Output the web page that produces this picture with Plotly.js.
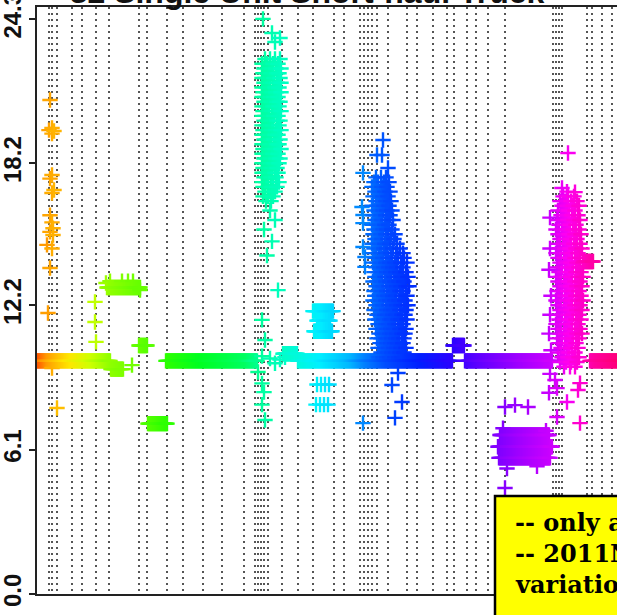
<!DOCTYPE html>
<html>
<head>
<meta charset="utf-8">
<script src="https://cdn.plot.ly/plotly-3.0.1.min.js"></script>
<style>
  html, body { margin: 0; padding: 0; background: #ffffff; overflow: hidden; }
  #chart { position: absolute; left: 0; top: -8px; width: 640px; height: 640px; }
</style>
</head>
<body>
<div id="chart"></div>
<script>
// Hourly readings, x = hour index along the record, y = value.

// Steady stretches: first hour, last hour, level.
const runStart = [0, 74, 70, 102, 111, 129, 246, 261, 276, 280, 277, 416, 428, 463, 461, 462, 547, 553];
const runEnd   = [73, 86, 103, 110, 130, 220, 260, 415, 296, 293, 295, 427, 515, 512, 515, 513, 556, 588];
const runLevel = [9.85, 9.5, 12.95, 10.5, 7.2, 9.85, 10.15, 9.85, 11.95, 11.55, 11.1, 10.5, 9.85, 6.72, 6.22, 5.75, 14.05, 9.85];

// Busy hours: at each level, the hours that reported it.
const tealLevels = [22.6, 22.4, 22.2, 22.0, 21.8, 21.6, 21.4, 21.2, 21.0, 20.8, 20.6, 20.4, 20.2, 20.0, 19.8, 19.6,
  19.4, 19.2, 19.0, 18.8, 18.6, 18.4, 18.2, 18.0, 17.8, 17.6, 17.4, 17.2, 17.0, 16.8, 16.6];
const tealHours = [
  [228, 233, 238, 243], [225, 230, 236, 241], [227, 232, 235, 239, 244], [226, 229, 234, 240, 242],
  [225, 228, 231, 237, 243], [227, 233, 236, 240, 244], [225, 229, 232, 238, 242], [226, 230, 235, 239, 244],
  [225, 228, 233, 237, 241], [227, 231, 234, 240, 243], [225, 229, 236, 238, 242], [226, 232, 235, 239, 244],
  [225, 228, 231, 237, 241], [227, 230, 234, 240, 243], [225, 229, 233, 236, 242], [226, 231, 235, 239, 244],
  [225, 228, 232, 238, 241], [227, 230, 234, 237, 243], [225, 229, 233, 240, 242], [226, 232, 235, 238, 244],
  [225, 228, 231, 236, 241], [227, 230, 234, 239, 243], [225, 229, 233, 237, 242], [226, 231, 235, 240],
  [225, 228, 232, 238, 241], [227, 230, 234, 239], [225, 229, 236, 242], [226, 231, 235, 240],
  [228, 233, 238], [226, 231, 236], [229, 234]];

const blueLevels = [17.6, 17.4, 17.2, 17.0, 16.8, 16.6, 16.4, 16.2, 16.0, 15.8, 15.6, 15.4, 15.2, 15.0, 14.8, 14.6, 14.4,
  14.2, 14.0, 13.8, 13.6, 13.4, 13.2, 13.0, 12.8, 12.6, 12.4, 12.2, 12.0, 11.8, 11.6, 11.4, 11.2, 11.0, 10.8, 10.6,
  10.4, 10.2, 10.0];
const blueHours = [
  [339, 344, 349], [337, 341, 347, 352], [335, 340, 345, 350], [338, 343, 348, 353], [336, 341, 346, 351],
  [339, 344, 349, 354], [335, 340, 343, 347, 352], [337, 342, 346, 350, 355], [336, 339, 344, 349, 353],
  [338, 341, 345, 351, 356], [335, 340, 343, 348, 352], [337, 342, 346, 350, 355], [336, 339, 344, 349, 354, 358],
  [338, 341, 345, 351, 357], [335, 340, 343, 348, 353, 360], [337, 342, 347, 350, 356, 363],
  [336, 339, 344, 349, 354, 359, 366],
  [338, 342, 346, 351, 355, 361, 367], [336, 340, 344, 349, 353, 358, 364, 370], [339, 343, 347, 352, 356, 360, 366],
  [337, 341, 345, 350, 354, 359, 363, 369], [338, 342, 348, 351, 357, 361, 365, 371],
  [336, 340, 344, 349, 353, 358, 362, 367], [339, 343, 346, 352, 355, 360, 364, 369, 372],
  [337, 341, 345, 350, 354, 357, 363, 366], [338, 342, 347, 351, 356, 359, 365, 370],
  [336, 340, 344, 349, 353, 358, 362, 368], [339, 343, 346, 352, 355, 360, 364, 367, 371],
  [337, 341, 345, 350, 354, 357, 363, 369], [340, 344, 348, 351, 356, 359, 365, 368],
  [338, 342, 347, 353, 355, 361, 364, 370], [341, 345, 349, 352, 358, 362, 366],
  [339, 343, 346, 350, 354, 357, 363, 369], [342, 345, 348, 353, 356, 360, 365, 368],
  [340, 344, 349, 351, 355, 359, 362, 367], [343, 346, 350, 354, 358, 361, 366],
  [341, 345, 348, 352, 357, 360, 364, 369], [344, 347, 351, 355, 359, 363, 367], [342, 346, 350, 353, 358, 362, 365]];

const magentaLevels = [16.8, 16.6, 16.4, 16.2, 16.0, 15.8, 15.6, 15.4, 15.2, 15.0, 14.8, 14.6, 14.4, 14.2, 14.0, 13.8,
  13.6, 13.4, 13.2, 13.0, 12.8, 12.6, 12.4, 12.2, 12.0, 11.8, 11.6, 11.4, 11.2, 11.0, 10.8, 10.6, 10.4, 10.2, 10.0,
  9.8, 9.6];
const magentaHours = [
  [526, 531, 537], [523, 528, 534, 540], [525, 530, 536, 542], [521, 527, 532, 538], [524, 529, 535, 541],
  [520, 526, 531, 537, 543], [522, 528, 533, 539], [519, 525, 530, 536, 542], [521, 527, 532, 538, 544],
  [523, 529, 534, 540], [520, 526, 531, 537, 543], [522, 528, 533, 539, 545], [519, 524, 530, 535, 541],
  [521, 527, 532, 538, 543], [523, 529, 534, 540, 546], [520, 525, 531, 536, 542], [522, 528, 533, 539, 544],
  [519, 524, 530, 535, 541, 546], [521, 527, 532, 538, 543], [523, 529, 534, 540, 545], [520, 525, 531, 536, 542],
  [522, 528, 533, 539, 544], [519, 524, 530, 535, 541, 546], [521, 527, 532, 538, 543], [523, 529, 534, 540, 545],
  [520, 525, 531, 536, 542], [522, 528, 533, 539, 544], [519, 524, 530, 535, 541], [521, 527, 532, 538, 543],
  [523, 529, 534, 540, 545], [520, 525, 531, 536, 542], [522, 528, 533, 539], [524, 530, 535, 541],
  [521, 527, 532, 538], [525, 531, 536, 542], [523, 529, 534, 540], [527, 533, 538]];

// Loose readings.
const earlyX = [13, 15, 12, 17, 15, 15, 13, 17, 15, 13, 15, 16, 13, 16, 10, 15, 13, 11, 15, 20,
  58, 58, 59, 73, 85, 91, 96, 69, 103, 95];
const earlyY = [20.87, 19.69, 19.6, 19.56, 19.45, 17.7, 17.55, 17.07, 16.94, 16.0, 15.7, 15.45, 15.3, 15.17, 14.75, 14.6, 13.77, 11.87, 9.55, 7.86,
  12.34, 11.49, 10.65, 13.22, 13.22, 13.22, 13.22, 13.14, 12.84, 9.67];

const tealX = [226, 235, 243, 238, 233, 238, 227, 235, 230, 241, 225, 228, 225, 221, 225, 227, 225, 228, 233, 243, 248, 238];
const tealY = [24.3, 23.7, 23.49, 23.32, 16.2, 15.8, 15.4, 14.9, 14.3, 12.84, 11.58, 10.73, 10.05, 9.38, 8.9, 8.53, 8.0, 7.35, 9.95, 9.9, 10.0, 9.75];

const cyanX = [280, 284, 288, 292, 279, 283, 287, 291, 326, 325, 326, 326, 326, 328, 328, 326];
const cyanY = [8.85, 8.85, 8.85, 8.85, 8.0, 8.0, 8.0, 8.0, 17.79, 16.35, 16.01, 15.67, 14.66, 14.24, 13.82, 7.22];

const blueX = [346, 340, 345, 351, 361, 355, 365, 358];
const blueY = [19.18, 18.55, 18.55, 18.0, 9.34, 8.83, 8.11, 7.44];

const violetX = [468, 478, 491, 468, 466, 509, 470, 500];
const violetY = [7.9, 7.98, 7.9, 4.48, 7.0, 6.9, 5.3, 5.4];

const magentaX = [531, 525, 538, 530, 513, 513, 512, 514, 513, 512, 514, 513, 512, 518, 520, 543, 541, 530, 520, 543];
const magentaY = [18.63, 17.15, 16.98, 17.0, 15.9, 14.6, 13.7, 12.6, 11.8, 11.0, 10.3, 9.3, 8.5, 9.04, 8.7, 8.91, 8.62, 8.11, 7.48, 7.22];

// Hours marked by dotted reference lines.
const gridHours = [12, 15, 20, 35, 45, 58.5, 59.5, 72, 102, 110, 130, 146, 166, 185, 207, 218, 221, 224, 227, 231,
  245, 261, 276, 297, 307, 323, 327, 331, 335, 340, 351, 370, 380, 396, 410, 417, 430, 439, 451, 468,
  516, 519, 522, 525, 550, 555, 565, 575];

const yTickVals = [0, 6.1, 12.2, 18.2, 24.3];
const yTickText = ['0.0', '6.1', '12.2', '18.2', '24.3'];

const chartTitle = '32 Single Unit Short-haul Truck';
const noteLines = ['-- only a few sites report', '-- 2011NEI default profile', 'variation is not captured'];

// Collect every reading.
let xs = [], ys = [];
const add = (x, y) => { xs.push(x); ys.push(y); };
runStart.forEach((s, k) => { for (let h = s; h <= runEnd[k]; h++) add(h, runLevel[k]); });
[[tealLevels, tealHours], [blueLevels, blueHours], [magentaLevels, magentaHours]].forEach(([lv, hrs]) => {
  lv.forEach((y, k) => hrs[k].forEach(h => add(h, y)));
});
[[earlyX, earlyY], [tealX, tealY], [cyanX, cyanY], [blueX, blueY], [violetX, violetY], [magentaX, magentaY]]
  .forEach(([gx, gy]) => gx.forEach((x, k) => add(x, gy[k])));
const order = xs.map((_, k) => k).sort((a, b) => xs[a] - xs[b]);
xs = order.map(k => xs[k]);
ys = order.map(k => ys[k]);

// Rainbow along the record.
const rainbow = [
  [0.000, '#ff5000'], [0.017, '#ff9a00'], [0.031, '#ffb800'], [0.056, '#ffe600'],
  [0.090, '#d0ff00'], [0.124, '#90ff00'], [0.175, '#66ff00'], [0.218, '#30ff00'],
  [0.277, '#00ff20'], [0.354, '#00ff60'], [0.383, '#00ffa0'], [0.422, '#00ffc8'],
  [0.481, '#00f0ff'], [0.532, '#00b8ff'], [0.558, '#0080ff'], [0.592, '#0050ff'],
  [0.651, '#0020ff'], [0.711, '#3000ff'], [0.753, '#6000ff'], [0.821, '#a000ff'],
  [0.872, '#c800ff'], [0.906, '#ff00f0'], [0.949, '#ff00a0'], [1.000, '#ff0070']
];
const xMax = 588;

const trace = {
  type: 'scatter',
  mode: 'markers',
  x: xs,
  y: ys,
  hoverinfo: 'skip',
  marker: {
    symbol: 'cross-thin',
    size: 11,
    color: xs, colorscale: rainbow, cmin: 0, cmax: xMax,
    line: { width: 2.4, color: xs, colorscale: rainbow, cmin: 0, cmax: xMax }
  }
};

// Page geometry of the plot area (layout pixels).
const plotTop = 15, plotH = 587, plotL = 37, plotW = 588;
const px2x = p => (p - plotL) / plotW;
const py2y = p => (plotTop + plotH - p) / plotH;
const shiftY = 8;
const noteFirst = 522.5, noteGap = 31;

const layout = {
  width: 640, height: 640,
  margin: { l: plotL, r: 640 - plotL - plotW, t: plotTop, b: 640 - plotTop - plotH },
  paper_bgcolor: '#ffffff', plot_bgcolor: '#ffffff',
  showlegend: false,
  title: {
    text: chartTitle, x: px2x(307), xref: 'paper', xanchor: 'center', y: 1, yref: 'container', yanchor: 'middle',
    font: { family: 'Liberation Sans, Arial, sans-serif', size: 32, color: '#111', weight: 'bold' }
  },
  xaxis: {
    range: [0, xMax], fixedrange: true,
    tickmode: 'array', tickvals: gridHours, showticklabels: false, ticks: '',
    showgrid: true, gridcolor: '#555', gridwidth: 1.4, griddash: '2px,4px',
    zeroline: false, showline: true, mirror: true, linecolor: '#222', linewidth: 2
  },
  yaxis: {
    range: [0, 24.8], fixedrange: true,
    tickmode: 'array', tickvals: yTickVals, ticktext: yTickText, tickangle: -90,
    ticks: 'outside', ticklen: 6, tickwidth: 2, tickcolor: '#222', ticklabelstandoff: -2,
    ticklabeloverflow: 'allow',
    tickfont: { family: 'Liberation Sans, Arial, sans-serif', size: 24, color: '#111', weight: 'bold' },
    showgrid: false, zeroline: false, showline: true, mirror: true, linecolor: '#222', linewidth: 2
  },
  shapes: [{
    type: 'rect', xref: 'paper', yref: 'paper', layer: 'above',
    x0: px2x(495), x1: 1.2, y0: -0.2, y1: py2y(496 + shiftY),
    fillcolor: '#ffff00', line: { color: '#000000', width: 2.5 }
  }],
  annotations: noteLines.map((t, k) => ({
    text: t, showarrow: false, xref: 'paper', yref: 'paper',
    x: px2x(513), xanchor: 'left', y: py2y(noteFirst + shiftY + k * noteGap), yanchor: 'middle', align: 'left',
    font: { family: 'DejaVu Serif, serif', size: 24, color: '#000', weight: 'bold' }
  }))
};

Plotly.newPlot('chart', [trace], layout, { displayModeBar: false, staticPlot: true });
</script>
</body>
</html>
